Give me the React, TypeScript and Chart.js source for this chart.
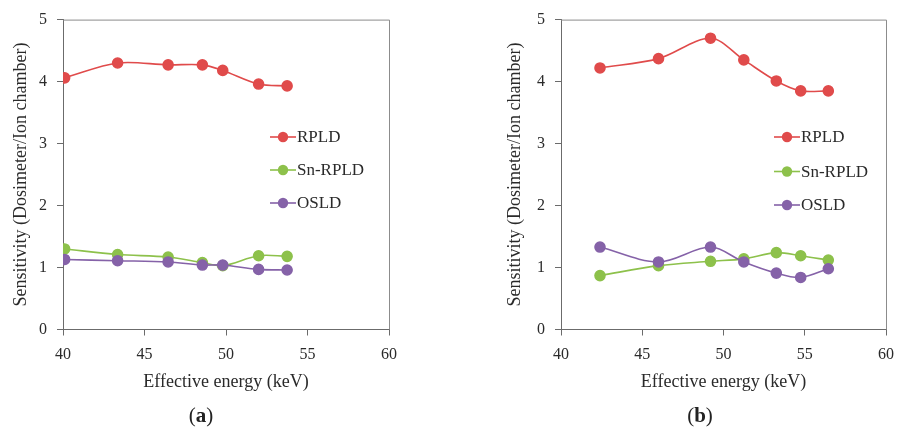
import React, { useEffect, useRef } from 'react';
import { Chart, registerables } from 'chart.js';

Chart.register(...registerables);

// ---- data ----
const SERIES_NAMES = ['RPLD', 'Sn-RPLD', 'OSLD'];
const X_TICKS = [40, 45, 50, 55, 60];
const Y_TICKS = [0, 1, 2, 3, 4, 5];
const X_TITLE = 'Effective energy (keV)';
const Y_TITLE = 'Sensitivity (Dosimeter/Ion chamber)';

const ENERGY_A = [40.1, 43.35, 46.45, 48.55, 49.8, 52.0, 53.75];
const RPLD_A = [4.06, 4.3, 4.27, 4.27, 4.18, 3.96, 3.93];
const SN_RPLD_A = [1.3, 1.21, 1.17, 1.08, 1.03, 1.19, 1.18];
const OSLD_A = [1.13, 1.11, 1.09, 1.04, 1.04, 0.97, 0.96];

const ENERGY_B = [42.4, 46.0, 49.2, 51.25, 53.25, 54.75, 56.45];
const RPLD_B = [4.22, 4.37, 4.7, 4.35, 4.01, 3.85, 3.85];
const SN_RPLD_B = [0.87, 1.03, 1.1, 1.14, 1.24, 1.19, 1.12];
const OSLD_B = [1.33, 1.09, 1.33, 1.09, 0.91, 0.84, 0.98];

const COLORS = ['#E04B4B', '#8DC14B', '#8562A8'];
const FONT = '"Liberation Serif", "Times New Roman", serif';
const TEXT = '#2a2a2a';

type PanelProps = {
  energy: number[];
  series: number[][];
  plotLeft: number;
  yTitlePad: number;
  legendX: number;
  legendRows: number[];
};

function Panel({ energy, series, plotLeft, yTitlePad, legendX, legendRows }: PanelProps) {
  const ref = useRef<HTMLCanvasElement | null>(null);
  useEffect(() => {
    if (!ref.current) return;
    const W = 452;
    const H = 432;
    const plotRight = plotLeft + 326;
    const plotTop = 19;
    const plotBottom = 329.5;

    const frame = {
      id: 'frame',
      beforeDatasetsDraw(chart: any) {
        const { ctx, chartArea: a } = chart;
        ctx.save();
        ctx.strokeStyle = '#8c8c8c';
        ctx.lineWidth = 1;
        ctx.beginPath();
        ctx.moveTo(a.left, a.top + 0.5);
        ctx.lineTo(a.right + 0.5, a.top + 0.5);
        ctx.lineTo(a.right + 0.5, a.bottom);
        ctx.stroke();
        ctx.restore();
      },
    };

    const legend = {
      id: 'insetLegend',
      afterDatasetsDraw(chart: any) {
        const ctx = chart.ctx;
        chart.data.datasets.forEach((ds: any, i: number) => {
          const y = legendRows[i];
          ctx.save();
          ctx.strokeStyle = ds.borderColor;
          ctx.lineWidth = 1.6;
          ctx.beginPath();
          ctx.moveTo(legendX, y);
          ctx.lineTo(legendX + 26, y);
          ctx.stroke();
          ctx.fillStyle = ds.backgroundColor;
          ctx.beginPath();
          ctx.arc(legendX + 13, y, 5.2, 0, Math.PI * 2);
          ctx.fill();
          ctx.fillStyle = TEXT;
          ctx.font = '17px ' + FONT;
          ctx.textBaseline = 'middle';
          ctx.textAlign = 'left';
          ctx.fillText(ds.label, legendX + 27, y + 1);
          ctx.restore();
        });
      },
    };

    const datasets = SERIES_NAMES.map((name, i) => ({
      label: name,
      data: energy.map((x, j) => ({ x, y: series[i][j] })),
      borderColor: COLORS[i],
      backgroundColor: COLORS[i],
      pointBackgroundColor: COLORS[i],
      pointBorderColor: COLORS[i],
      pointRadius: 5,
      borderWidth: 1.6,
      showLine: true,
      tension: 0.33,
      order: SERIES_NAMES.length - i,
    }));

    const axisGrid = {
      display: true,
      drawOnChartArea: false,
      drawTicks: true,
      tickLength: 6,
      color: '#6b6b6b',
    };

    const chart = new Chart(ref.current, {
      type: 'scatter',
      data: { datasets },
      plugins: [frame, legend],
      options: {
        responsive: false,
        animation: false,
        layout: { padding: { left: 0, top: plotTop, right: W - plotRight, bottom: 0 } },
        plugins: { legend: { display: false }, tooltip: { enabled: false } },
        scales: {
          x: {
            type: 'linear',
            min: X_TICKS[0],
            max: X_TICKS[X_TICKS.length - 1],
            afterBuildTicks: (s: any) => {
              s.ticks = X_TICKS.map((v) => ({ value: v }));
            },
            afterFit: (s: any) => {
              s.height = H - plotBottom;
            },
            grid: axisGrid,
            border: { display: true, color: '#6b6b6b', width: 1 },
            ticks: { color: TEXT, font: { family: FONT, size: 16 }, padding: 10, maxRotation: 0 },
            title: {
              display: true,
              text: X_TITLE,
              color: TEXT,
              font: { family: FONT, size: 18 },
              padding: { top: 0, bottom: 39 },
            },
          },
          y: {
            type: 'linear',
            min: Y_TICKS[0],
            max: Y_TICKS[Y_TICKS.length - 1],
            afterBuildTicks: (s: any) => {
              s.ticks = Y_TICKS.map((v) => ({ value: v }));
            },
            afterFit: (s: any) => {
              s.width = plotLeft;
            },
            grid: axisGrid,
            border: { display: true, color: '#6b6b6b', width: 1 },
            ticks: { color: TEXT, font: { family: FONT, size: 16 }, padding: 10 },
            title: {
              display: true,
              text: Y_TITLE,
              color: TEXT,
              font: { family: FONT, size: 18 },
              padding: { top: yTitlePad, bottom: 0 },
            },
          },
        },
      } as any,
    });
    return () => chart.destroy();
  }, []);
  return <canvas ref={ref} width={452} height={432} style={{ display: 'block' }} />;
}

const labelStyle: React.CSSProperties = {
  position: 'absolute',
  top: 402,
  width: 60,
  textAlign: 'center',
  fontFamily: FONT,
  fontSize: 21,
  color: '#222',
  lineHeight: '26px',
};

export default function App() {
  return (
    <div style={{ position: 'absolute', left: 0, top: 0, width: 904, height: 432, background: '#fff' }}>
      <div style={{ position: 'absolute', left: 0, top: 0 }}>
        <Panel
          energy={ENERGY_A}
          series={[RPLD_A, SN_RPLD_A, OSLD_A]}
          plotLeft={63}
          yTitlePad={10}
          legendX={270}
          legendRows={[137, 170, 203]}
        />
      </div>
      <div style={{ position: 'absolute', left: 452, top: 0 }}>
        <Panel
          energy={ENERGY_B}
          series={[RPLD_B, SN_RPLD_B, OSLD_B]}
          plotLeft={109}
          yTitlePad={52}
          legendX={322}
          legendRows={[137, 171.5, 205]}
        />
      </div>
      <div style={{ ...labelStyle, left: 171 }}>
        (<b>a</b>)
      </div>
      <div style={{ ...labelStyle, left: 670 }}>
        (<b>b</b>)
      </div>
    </div>
  );
}
